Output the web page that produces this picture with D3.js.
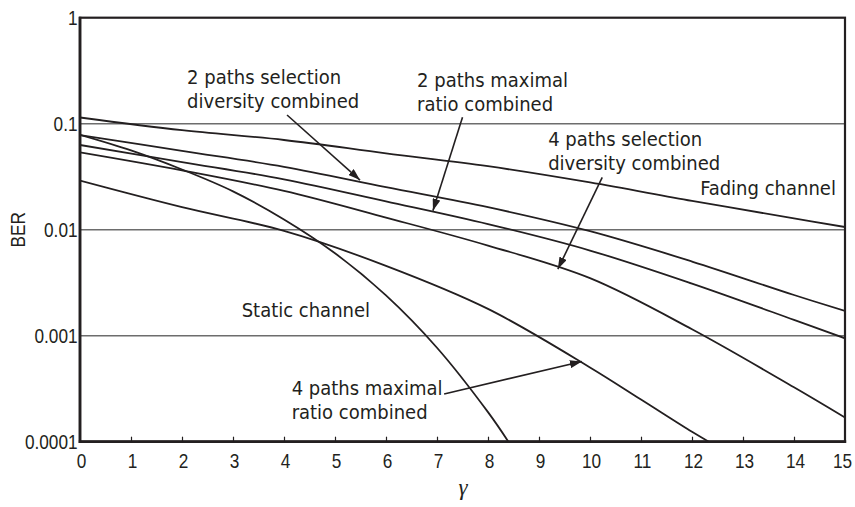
<!DOCTYPE html>
<html>
<head>
<meta charset="utf-8">
<script src="https://cdn.jsdelivr.net/npm/d3@7"></script>
<style>
  html, body { margin: 0; padding: 0; background: #fff; }
  svg { display: block; }
  .note { font-family: "DejaVu Sans Condensed", "DejaVu Sans", sans-serif; fill: #231f20; }
  .tk { font-family: "Liberation Sans", Arial, sans-serif; fill: #231f20; }
</style>
</head>
<body>
<svg id="chart" width="855" height="507"></svg>
<script>
// ---------- data ----------
const gammaTicks = [0,1,2,3,4,5,6,7,8,9,10,11,12,13,14,15];
const berTicks = [1, 0.1, 0.01, 0.001, 0.0001];
const berTickLabels = ["1", "0.1", "0.01", "0.001", "0.0001"];

const fadingG = [0, 2, 4, 6, 8, 10, 12, 14, 15];
const fadingV = [0.1144, 0.0868, 0.0702, 0.0525, 0.0397, 0.0279, 0.0187, 0.0128, 0.0106];

const sd2G = [0, 2, 4, 6, 8, 10, 12, 14, 15];
const sd2V = [0.0782, 0.0553, 0.0392, 0.0252, 0.0163, 0.00968, 0.00501, 0.00242, 0.00171];

const mrc2G = [0, 2, 4, 6, 8, 10, 12, 14, 15];
const mrc2V = [0.0630, 0.0435, 0.0299, 0.0185, 0.0113, 0.00636, 0.00310, 0.00141, 0.000945];

const sd4G = [0, 2, 4, 6, 8, 10, 12, 14, 15];
const sd4V = [0.0537, 0.0363, 0.0232, 0.0130, 0.00708, 0.00349, 0.00115, 0.000326, 0.000169];

const mrc4G = [0, 2, 4, 6, 8, 10, 11, 12, 12.33];
const mrc4V = [0.0290, 0.0163, 0.00975, 0.00456, 0.00179, 0.000502, 0.00025, 0.000124, 0.0001];

const staticG = [0, 1, 2, 3, 4, 5, 6, 7, 8, 8.4];
const staticV = [0.0786, 0.056, 0.037, 0.023, 0.0125, 0.006, 0.0024, 0.00077, 0.00019, 0.0001];

// annotations: text lines, anchor (left, first baseline) in data units (gamma, BER)
const notes = [
  { lines: ["2 paths selection", "diversity combined"], g: 2.10, v: 0.237 },
  { lines: ["2 paths maximal", "ratio combined"], g: 6.61, v: 0.2205 },
  { lines: ["4 paths selection", "diversity combined"], g: 9.18, v: 0.0616 },
  { lines: ["Fading channel"], g: 12.16, v: 0.0212 },
  { lines: ["Static channel"], g: 3.17, v: 0.0015 },
  { lines: ["4 paths maximal", "ratio combined"], g: 4.15, v: 0.000273 }
];
// arrows: from (g0,v0) to tip (g1,v1)
const arrows = [
  { g0: 4.06, v0: 0.1208, g1: 5.49, v1: 0.0294 },
  { g0: 7.50, v0: 0.1149, g1: 6.92, v1: 0.0151 },
  { g0: 10.24, v0: 0.0311, g1: 9.37, v1: 0.00425 },
  { g0: 7.14, v0: 0.000282, g1: 9.84, v1: 0.000571 }
];

// ---------- layout ----------
const svg = d3.select("#chart");
const L = 80, R = 845, T = 17.7, B = 441.7;
const x = d3.scaleLinear().domain([0, 15]).range([L, R]);
const y = d3.scaleLog().domain([0.0001, 1]).range([B, T]);
const ink = "#231f20";
const tickSize = 21, squeeze = 0.82, noteSize = 20, lineGap = 23.8;

const defs = svg.append("defs");
defs.append("clipPath").attr("id", "clip")
  .append("rect").attr("x", L).attr("y", T).attr("width", R - L).attr("height", B - T);

// gridlines
svg.append("g").selectAll("line").data([0.1, 0.01, 0.001]).join("line")
  .attr("x1", L).attr("x2", R)
  .attr("y1", d => y(d)).attr("y2", d => y(d))
  .attr("stroke", "#6d6d6d").attr("stroke-width", 1.4);

// curves
const line = d3.line().x(d => x(d[0])).y(d => y(d[1])).curve(d3.curveCatmullRom.alpha(0.5));
const series = [
  [fadingG, fadingV], [sd2G, sd2V], [mrc2G, mrc2V],
  [sd4G, sd4V], [mrc4G, mrc4V], [staticG, staticV]
];
svg.append("g").attr("clip-path", "url(#clip)").selectAll("path")
  .data(series.map(([g, v]) => g.map((gg, i) => [gg, v[i]])))
  .join("path")
  .attr("d", line).attr("fill", "none").attr("stroke", ink).attr("stroke-width", 1.8);

// frame
svg.append("rect").attr("x", L).attr("y", T).attr("width", R - L).attr("height", B - T)
  .attr("fill", "none").attr("stroke", ink).attr("stroke-width", 2.2);
svg.append("line").attr("x1", L).attr("x2", L).attr("y1", T - 1).attr("y2", B + 1.2)
  .attr("stroke", ink).attr("stroke-width", 2.8);
svg.append("line").attr("x1", L - 1.2).attr("x2", R + 1.2).attr("y1", B).attr("y2", B)
  .attr("stroke", ink).attr("stroke-width", 2.8);

// x axis
const xAxis = d3.axisBottom(x).tickValues(gammaTicks).tickSize(-5).tickPadding(11)
  .tickFormat(d3.format("d"));
const gx = svg.append("g").attr("transform", `translate(0,${B})`).call(xAxis);
gx.select(".domain").remove();
gx.selectAll(".tick line").attr("stroke", ink).attr("stroke-width", 1.2)
  .filter(d => d === 0 || d === 15).remove();
gx.selectAll(".tick text").attr("class", "tk").attr("font-size", tickSize).attr("fill", ink)
  .attr("transform", d => `translate(${d === 15 ? -3 : 1},0) scale(${squeeze},1)`);

// y axis
const yAxis = d3.axisLeft(y).tickValues(berTicks).tickSize(0).tickPadding(3)
  .tickFormat((d, i) => berTickLabels[i]);
const gy = svg.append("g").attr("transform", `translate(${L},0)`).call(yAxis);
gy.select(".domain").remove();
gy.selectAll(".tick text").attr("class", "tk").attr("font-size", tickSize).attr("fill", ink)
  .attr("transform", `scale(${squeeze},1)`);

// axis titles
svg.append("text").attr("class", "tk").attr("font-size", tickSize)
  .attr("transform", `translate(25,${y(0.01)}) rotate(-90) scale(${squeeze},1)`)
  .attr("text-anchor", "middle").text("BER");
svg.append("text").attr("x", (L + R) / 2 + 0.5).attr("y", 495)
  .attr("text-anchor", "middle").attr("font-family", "'Liberation Serif', 'DejaVu Serif', serif")
  .attr("font-style", "italic").attr("font-size", 23).attr("fill", ink).text("γ");

// annotations
const ng = svg.append("g");
notes.forEach(n => {
  const t = ng.append("text").attr("class", "note").attr("font-size", noteSize)
    .attr("x", x(n.g)).attr("y", y(n.v));
  n.lines.forEach((s, i) => {
    t.append("tspan").attr("x", x(n.g)).attr("dy", i === 0 ? 0 : lineGap).text(s);
  });
});

// arrows
defs.append("marker").attr("id", "arr").attr("viewBox", "0 0 12 8")
  .attr("refX", 12).attr("refY", 4).attr("markerWidth", 12).attr("markerHeight", 8)
  .attr("markerUnits", "userSpaceOnUse").attr("orient", "auto")
  .append("path").attr("d", "M0,0 L12,4 L0,8 Z").attr("fill", ink);
svg.append("g").selectAll("line").data(arrows).join("line")
  .attr("x1", d => x(d.g0)).attr("y1", d => y(d.v0))
  .attr("x2", d => x(d.g1)).attr("y2", d => y(d.v1))
  .attr("stroke", ink).attr("stroke-width", 1.6).attr("marker-end", "url(#arr)");
</script>
</body>
</html>
